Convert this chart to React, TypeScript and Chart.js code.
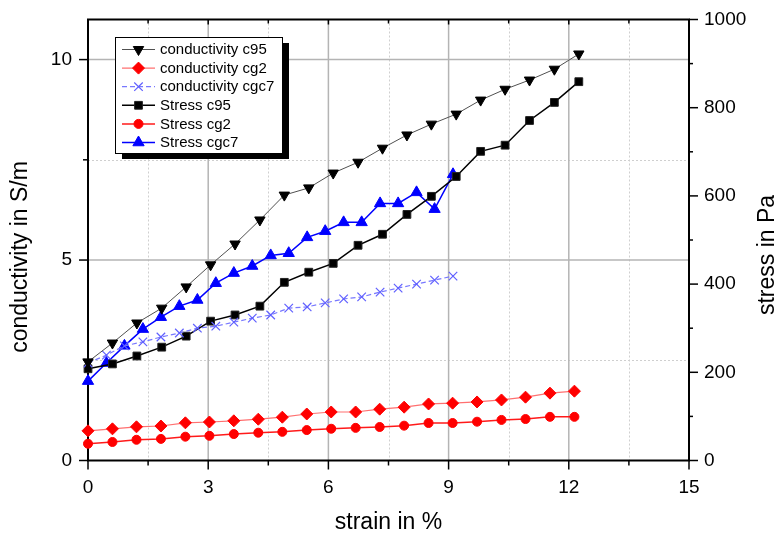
import React, { useEffect, useRef } from 'react';
import { Chart, registerables } from 'chart.js';
import { drawPoint } from 'chart.js/helpers';

Chart.register(...registerables);

// ---- data ----
const strainC95 = [0, 0.61, 1.22, 1.84, 2.45, 3.06, 3.67, 4.29, 4.9, 5.51, 6.12, 6.74, 7.35, 7.96, 8.57, 9.19, 9.8, 10.41, 11.02, 11.64, 12.25];
const condC95 = [2.46, 2.93, 3.43, 3.8, 4.33, 4.88, 5.4, 6.0, 6.62, 6.8, 7.17, 7.44, 7.79, 8.12, 8.39, 8.64, 8.99, 9.26, 9.49, 9.76, 10.14];
const stressC95 = [208, 219, 237, 257, 282, 316, 330, 350, 404, 427, 447, 488, 513, 558, 599, 644, 701, 715, 771, 812, 859];

const strainCg2 = [0, 0.61, 1.21, 1.82, 2.43, 3.03, 3.64, 4.25, 4.85, 5.46, 6.07, 6.68, 7.28, 7.89, 8.5, 9.1, 9.71, 10.32, 10.92, 11.53, 12.14];
const condCg2 = [0.74, 0.79, 0.84, 0.86, 0.94, 0.96, 0.99, 1.03, 1.08, 1.16, 1.21, 1.21, 1.28, 1.33, 1.41, 1.43, 1.46, 1.51, 1.58, 1.68, 1.73];
const stressCg2 = [38, 42, 47, 49, 54, 56, 60, 63, 65, 69, 72, 74, 76, 79, 85, 85, 88, 92, 94, 99, 99];

const strainCgc7 = [0, 0.46, 0.91, 1.37, 1.82, 2.28, 2.73, 3.19, 3.64, 4.1, 4.56, 5.01, 5.47, 5.92, 6.38, 6.83, 7.29, 7.74, 8.2, 8.65, 9.11];
const condCgc7 = [2.43, 2.63, 2.86, 2.96, 3.08, 3.18, 3.3, 3.35, 3.45, 3.55, 3.63, 3.8, 3.83, 3.93, 4.03, 4.08, 4.2, 4.3, 4.4, 4.5, 4.6];
const stressCgc7 = [180, 221, 260, 298, 325, 350, 364, 402, 425, 441, 465, 470, 506, 520, 540, 540, 583, 583, 608, 570, 649];

const seriesNames = ['conductivity c95', 'conductivity cg2', 'conductivity cgc7', 'Stress c95', 'Stress cg2', 'Stress cgc7'];

const xTicks = [0, 3, 6, 9, 12, 15];
const xMinorTicks = [1.5, 4.5, 7.5, 10.5, 13.5];
const condTicks = [0, 5, 10];
const condMinorTicks = [2.5, 7.5];
const stressTicks = [0, 200, 400, 600, 800, 1000];
const stressMinorTicks = [100, 300, 500, 700, 900];

const xTitle = 'strain in %';
const condTitle = 'conductivity in S/m';
const stressTitle = 'stress in Pa';

const FONT = '"Liberation Sans", Arial, sans-serif';

const pts = (xs: number[], ys: number[]) => xs.map((x, i) => ({ x, y: ys[i] }));

const noPad = (s: any) => { s.paddingTop = 0; s.paddingBottom = 0; s.paddingLeft = 0; s.paddingRight = 0; };

const decorPlugin = {
  id: 'decor',
  beforeDatasetsDraw(chart: any) {
    const { ctx, chartArea } = chart;
    const { left, right, top, bottom } = chartArea;
    const { x, y, y1 } = chart.scales;
    ctx.save();
    // minor dotted grid
    ctx.strokeStyle = '#cfcfcf';
    ctx.lineWidth = 1;
    ctx.setLineDash([2, 2]);
    xMinorTicks.forEach((v) => {
      const p = Math.round(x.getPixelForValue(v)) + 0.5;
      ctx.beginPath(); ctx.moveTo(p, top); ctx.lineTo(p, bottom); ctx.stroke();
    });
    condMinorTicks.forEach((v) => {
      const p = Math.round(y.getPixelForValue(v)) + 0.5;
      ctx.beginPath(); ctx.moveTo(left, p); ctx.lineTo(right, p); ctx.stroke();
    });
    // major grid
    ctx.setLineDash([]);
    ctx.strokeStyle = '#b4b4b4';
    ctx.lineWidth = 1.5;
    xTicks.filter((v) => v > 0 && v < 15).forEach((v) => {
      const p = x.getPixelForValue(v);
      ctx.beginPath(); ctx.moveTo(p, top); ctx.lineTo(p, bottom); ctx.stroke();
    });
    condTicks.filter((v) => v > 0).forEach((v) => {
      const p = y.getPixelForValue(v);
      ctx.beginPath(); ctx.moveTo(left, p); ctx.lineTo(right, p); ctx.stroke();
    });
    // frame
    ctx.strokeStyle = '#000';
    ctx.lineWidth = 2;
    ctx.strokeRect(left, top, right - left, bottom - top);
    // ticks
    ctx.lineWidth = 1.5;
    const vline = (px: number, y0: number, y2: number) => { ctx.beginPath(); ctx.moveTo(px, y0); ctx.lineTo(px, y2); ctx.stroke(); };
    const hline = (py: number, x0: number, x2: number) => { ctx.beginPath(); ctx.moveTo(x0, py); ctx.lineTo(x2, py); ctx.stroke(); };
    xTicks.forEach((v) => { const p = x.getPixelForValue(v); vline(p, bottom, bottom + 9); vline(p, top, top + 5); });
    xMinorTicks.forEach((v) => { const p = x.getPixelForValue(v); vline(p, bottom, bottom + 5); vline(p, top, top + 4); });
    condTicks.forEach((v) => { const p = y.getPixelForValue(v); hline(p, left - 9, left); });
    condMinorTicks.forEach((v) => { const p = y.getPixelForValue(v); hline(p, left - 5, left); });
    stressTicks.forEach((v) => { const p = y1.getPixelForValue(v); hline(p, right, right + 9); });
    stressMinorTicks.forEach((v) => { const p = y1.getPixelForValue(v); hline(p, right, right + 4); });
    ctx.restore();
  },
  afterDraw(chart: any) {
    const { ctx } = chart;
    // y axis titles, both reading bottom-to-top
    const vTitle = (text: string, cx: number, cy: number) => {
      ctx.save();
      ctx.translate(cx, cy);
      ctx.rotate(-Math.PI / 2);
      ctx.font = `23px ${FONT}`;
      ctx.fillStyle = '#000';
      ctx.textAlign = 'center';
      ctx.textBaseline = 'middle';
      ctx.fillText(text, 0, 0);
      ctx.restore();
    };
    vTitle(condTitle, 21, 257);
    vTitle(stressTitle, 768, 255);

    // legend with drop shadow
    const bx = 115, by = 37, bw = 167, bh = 116;
    ctx.save();
    ctx.fillStyle = '#000';
    ctx.fillRect(bx + 7, by + 6, bw, bh);
    ctx.fillStyle = '#fff';
    ctx.fillRect(bx, by, bw, bh);
    ctx.strokeStyle = '#000';
    ctx.lineWidth = 1;
    ctx.strokeRect(bx + 0.5, by + 0.5, bw, bh);
    chart.data.datasets.forEach((ds: any, i: number) => {
      const ry = 49.5 + i * 18.6;
      ctx.save();
      ctx.strokeStyle = ds.borderColor;
      ctx.lineWidth = ds.borderWidth;
      ctx.setLineDash(ds.borderDash || []);
      ctx.beginPath(); ctx.moveTo(122, ry); ctx.lineTo(155, ry); ctx.stroke();
      ctx.setLineDash([]);
      ctx.fillStyle = ds.pointBackgroundColor;
      ctx.strokeStyle = ds.pointBorderColor;
      ctx.lineWidth = ds.pointBorderWidth;
      drawPoint(ctx, { pointStyle: ds.pointStyle, rotation: ds.pointRotation || 0, radius: ds.pointRadius, borderWidth: ds.pointBorderWidth }, 138.5, ry);
      ctx.restore();
      ctx.fillStyle = '#000';
      ctx.font = `15px ${FONT}`;
      ctx.textAlign = 'left';
      ctx.textBaseline = 'middle';
      ctx.fillText(ds.label, 160, ry + 0.5);
    });
    ctx.restore();
  },
};

export default function App() {
  const canvasRef = useRef<HTMLCanvasElement>(null);

  useEffect(() => {
    document.body.style.margin = '0';
    const canvas = canvasRef.current;
    if (!canvas) return;
    const common = { clip: false as any, pointHoverRadius: 0, tension: 0 };
    const tickFont = { family: FONT, size: 19 };
    const chart = new Chart(canvas, {
      type: 'line',
      data: {
        datasets: [
          {
            ...common,
            label: seriesNames[0], yAxisID: 'y',
            data: pts(strainC95, condC95),
            borderColor: '#505050', borderWidth: 1,
            pointStyle: 'triangle', pointRotation: 180, pointRadius: 6,
            pointBackgroundColor: '#000', pointBorderColor: '#000', pointBorderWidth: 1,
          },
          {
            ...common,
            label: seriesNames[1], yAxisID: 'y',
            data: pts(strainCg2, condCg2),
            borderColor: '#ff7070', borderWidth: 1.2,
            pointStyle: 'rectRot', pointRadius: 6,
            pointBackgroundColor: '#ff0000', pointBorderColor: '#ff0000', pointBorderWidth: 1,
          },
          {
            ...common,
            label: seriesNames[2], yAxisID: 'y',
            data: pts(strainCgc7, condCgc7),
            borderColor: '#7878ff', borderWidth: 1.2, borderDash: [5, 3],
            pointStyle: 'crossRot', pointRadius: 6,
            pointBackgroundColor: '#6060ff', pointBorderColor: '#6060ff', pointBorderWidth: 1.2,
          },
          {
            ...common,
            label: seriesNames[3], yAxisID: 'y1',
            data: pts(strainC95, stressC95),
            borderColor: '#000', borderWidth: 1.5,
            pointStyle: 'rect', pointRadius: 5.5,
            pointBackgroundColor: '#000', pointBorderColor: '#222', pointBorderWidth: 1,
          },
          {
            ...common,
            label: seriesNames[4], yAxisID: 'y1',
            data: pts(strainCg2, stressCg2),
            borderColor: '#ff1a1a', borderWidth: 1.5,
            pointStyle: 'circle', pointRadius: 4.5,
            pointBackgroundColor: '#ff0000', pointBorderColor: '#ff0000', pointBorderWidth: 1,
          },
          {
            ...common,
            label: seriesNames[5], yAxisID: 'y1',
            data: pts(strainCgc7, stressCgc7),
            borderColor: '#0000ff', borderWidth: 1.5,
            pointStyle: 'triangle', pointRadius: 6.5,
            pointBackgroundColor: '#0000ff', pointBorderColor: '#0000ff', pointBorderWidth: 1,
          },
        ],
      },
      options: {
        responsive: false,
        animation: false,
        events: [],
        layout: { autoPadding: false, padding: { top: 19.5, left: 0, right: 0, bottom: 0 } },
        plugins: { legend: { display: false }, tooltip: { enabled: false } },
        scales: {
          x: {
            type: 'linear', position: 'bottom', min: 0, max: 15,
            afterBuildTicks: (s: any) => { s.ticks = xTicks.map((v) => ({ value: v })); },
            ticks: { font: tickFont, color: '#000', padding: 16, maxRotation: 0, autoSkip: false, callback: (v: any) => String(v) },
            grid: { display: false, drawTicks: false },
            border: { display: false },
            title: { display: true, text: xTitle, font: { family: FONT, size: 23 }, color: '#000', padding: { top: 0, bottom: 0 } },
            afterFit: (s: any) => { s.height = 75.5; noPad(s); },
          },
          y: {
            type: 'linear', position: 'left', min: 0, max: 11,
            afterBuildTicks: (s: any) => { s.ticks = condTicks.map((v) => ({ value: v })); },
            ticks: { font: tickFont, color: '#000', padding: 16, autoSkip: false, callback: (v: any) => String(v) },
            grid: { display: false, drawTicks: false },
            border: { display: false },
            afterFit: (s: any) => { s.width = 88; noPad(s); },
          },
          y1: {
            type: 'linear', position: 'right', min: 0, max: 1000,
            afterBuildTicks: (s: any) => { s.ticks = stressTicks.map((v) => ({ value: v })); },
            ticks: { font: tickFont, color: '#000', padding: 15, autoSkip: false, callback: (v: any) => String(v) },
            grid: { display: false, drawTicks: false },
            border: { display: false },
            afterFit: (s: any) => { s.width = 90; noPad(s); },
          },
        },
      } as any,
      plugins: [decorPlugin],
    });
    return () => chart.destroy();
  }, []);

  return (
    <div style={{ position: 'absolute', left: 0, top: 0, width: 779, height: 536, background: '#fff' }}>
      <canvas ref={canvasRef} width={779} height={536} style={{ display: 'block', width: 779, height: 536 }} />
    </div>
  );
}
